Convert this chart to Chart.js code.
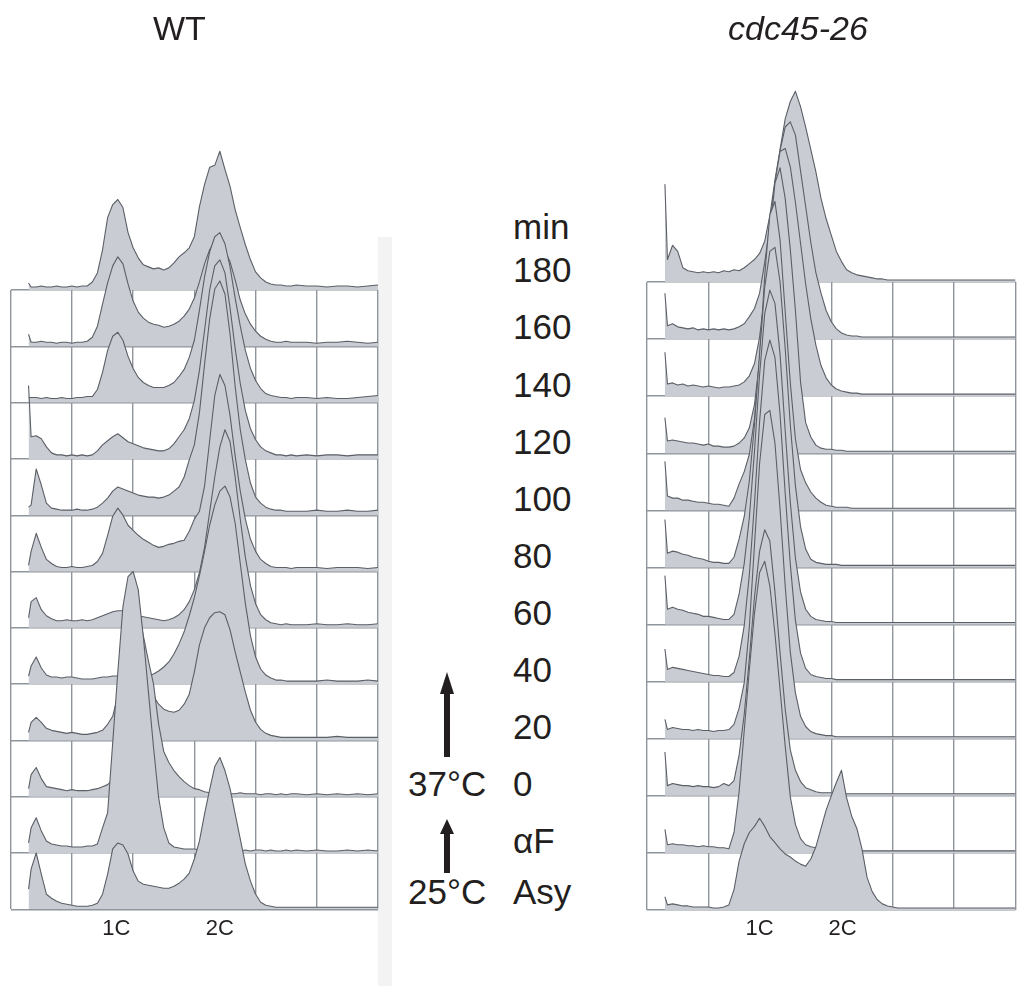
<!DOCTYPE html>
<html>
<head>
<meta charset="utf-8">
<script src="https://cdn.jsdelivr.net/npm/chart.js@4.4.1/dist/chart.umd.min.js"></script>
<style>
  body { margin: 0; background: #fff; font-family: "Liberation Sans", Arial, sans-serif; color: #231f20; }
  #page { position: relative; width: 1019px; height: 986px; overflow: hidden; }
  #bar { position: absolute; left: 378px; top: 237px; width: 14px; height: 749px; background: #f3f3f3; }
  .panel { position: absolute; top: 0; height: 986px; }
  .panel canvas { position: absolute; left: 0; top: 0; }
  .title { position: absolute; top: 11px; font-size: 34px; line-height: 34px; white-space: nowrap; }
  .lbl { position: absolute; font-size: 35px; line-height: 35px; white-space: nowrap; }
  #arrows { position: absolute; left: 0; top: 0; }
</style>
</head>
<body>
<div id="page">
  <div id="bar"></div>
  <div class="panel" style="left:0;width:395px">
    <canvas id="wtGrid" width="395" height="986"></canvas>
    <canvas id="wtHist" width="395" height="986"></canvas>
  </div>
  <div class="panel" style="left:630px;width:389px">
    <canvas id="cdcGrid" width="389" height="986"></canvas>
    <canvas id="cdcHist" width="389" height="986"></canvas>
  </div>
  <div class="title" style="left:153px">WT</div>
  <div class="title" style="left:728px;font-style:italic">cdc45-26</div>
  <div id="labels"></div>
  <svg id="arrows" width="1019" height="986">
    <rect x="444" y="690" width="6" height="67" fill="#231f20"/>
    <polygon points="440,694 447,672 454,694" fill="#231f20"/>
    <rect x="444" y="830" width="6" height="43" fill="#231f20"/>
    <polygon points="440,834 447,819 454,834" fill="#231f20"/>
  </svg>
</div>
<script>
// fluorescence channels (x), shared by every histogram
const chan = [3.5, 4, 5, 6, 7, 8, 9, 10, 11, 12, 13, 14, 15,
  16, 17, 18, 19, 20, 21, 22, 23, 24, 25, 26, 27, 28, 29, 30, 31, 32, 33, 34, 35,
  36, 37, 38, 39, 40, 41, 42, 43, 44, 45, 46, 47, 48, 49, 50, 51, 52, 53, 54, 55, 56,
  58, 60, 62, 64, 66, 68, 70, 72];

const rowLabels = ['Asy', 'αF', '0', '20', '40', '60', '80', '100', '120', '140', '160', '180'];
const ploidy = ['1C', '2C'];
const wtPloidyPos = [20.7, 41.0];
const cdcPloidyPos = [22.0, 38.2];

// WT cell counts per channel
const wtAsy = [20,40,56,35,15,11,8,6,5,4,3,3,3,
  4,6,15,35,60,66,64,55,38,28,25,24,23,22,21,21,23,26,30,36,
  50,68,95,119,142,151,138,120,95,70,45,28,15,7,4,3,2,2,2,2,2,
  2,2,2,2,2,2,2,2];
const wtAF = [10,25,35,22,12,9,8,7,7,6,6,6,7,
  7,9,25,40,110,180,245,275,280,262,215,160,105,55,25,10,6,5,4,4,
  4,3,4,3,3,3,2,3,3,2,3,2,3,3,2,3,2,2,3,2,3,
  2,3,2,2,3,2,3,2];
const wt0 = [8,22,29,18,10,9,8,7,6,7,6,6,6,
  7,8,10,12,17,60,116,170,196,185,160,135,112,72,45,34,26,20,15,11,
  8,7,5,4,3,3,4,3,3,4,3,3,3,2,3,3,2,3,2,3,3,
  2,3,2,3,2,3,2,3];
const wt20 = [8,18,23,18,12,10,9,8,7,8,7,6,6,
  7,8,10,16,24,45,85,115,120,105,80,58,44,36,31,29,28,30,36,46,
  68,95,112,122,127,128,125,110,88,68,48,30,18,11,7,5,4,3,3,3,3,
  3,3,3,4,3,3,3,3];
const wt40 = [8,18,27,16,9,7,7,6,7,7,6,5,5,
  5,6,7,7,8,8,7,7,6,6,7,8,10,13,17,22,30,40,52,68,
  86,108,132,158,178,192,197,186,160,120,80,48,27,15,9,6,4,4,3,3,3,
  3,3,4,3,3,3,4,3];
const wt60 = [10,26,30,18,12,9,7,7,8,7,7,8,7,
  8,10,12,14,16,17,17,16,14,12,11,10,9,8,7,8,10,13,18,26,
  38,55,80,115,150,180,197,185,150,108,70,42,24,13,8,5,4,3,4,3,3,
  3,4,3,3,4,3,3,4];
const wt80 = [6,20,38,24,12,8,5,4,4,5,4,4,5,
  6,10,18,36,55,63,56,46,41,36,32,29,26,24,25,27,28,30,31,40,
  52,60,85,130,175,196,185,155,115,80,52,32,20,12,8,5,4,4,4,3,4,
  4,4,3,4,4,4,3,4];
const wt100 = [8,10,46,30,12,7,6,5,5,5,6,5,5,
  6,8,12,17,24,28,26,24,22,20,19,18,18,17,18,20,24,28,38,55,
  70,102,150,195,225,233,220,180,128,85,55,32,18,12,8,6,5,5,4,4,4,
  4,5,4,4,5,4,4,5];
const wt120 = [73,22,23,20,12,6,4,4,3,4,3,4,3,
  4,8,14,18,22,25,21,17,15,13,11,10,9,8,8,10,15,22,29,40,
  58,88,128,168,192,198,185,150,110,75,48,30,19,12,8,6,4,4,3,4,3,
  4,3,4,4,3,4,4,4];
const wt140 = [5,5,5,4,5,4,4,5,4,4,5,5,6,
  6,13,30,52,66,70,62,46,34,25,20,17,15,15,15,17,20,26,33,45,
  62,92,125,150,165,169,158,135,104,76,52,34,22,14,9,7,6,5,5,4,5,
  5,4,5,4,4,5,6,7];
const wt160 = [12,4,4,5,4,4,3,4,4,3,4,4,5,
  9,20,42,63,80,89,82,62,45,34,28,24,22,21,19,20,22,25,30,37,
  48,64,82,96,104,102,95,84,66,46,32,22,15,10,7,5,4,4,5,4,4,
  4,3,4,4,5,4,3,4];
const wt180 = [7,3,3,4,3,3,4,3,3,4,3,4,4,
  8,17,40,72,85,90,82,57,42,32,25,23,21,22,20,22,27,33,37,42,
  53,83,105,122,124,138,120,103,80,62,45,30,18,12,8,6,5,5,4,4,5,
  4,4,3,4,4,3,4,5];

// cdc45-26 cell counts per channel
const cdcAsy = [13,5,6,5,4,4,3,3,3,3,2,2,3,
  5,20,48,65,76,82,90,82,72,66,60,55,52,48,45,43,50,62,80,98,
  112,125,137,110,92,80,60,32,18,10,6,4,3,2,2,2,2,2,2,2,2,
  2,2,2,2,2,2,2,2];
const cdcAF = [23,8,9,8,8,7,7,6,7,6,6,5,5,
  4,20,60,120,180,235,275,286,262,215,160,105,55,28,14,8,6,5,4,3,
  3,3,2,2,2,2,2,2,2,2,2,2,2,2,2,2,2,2,2,2,2,
  2,2,2,2,2,2,2,2];
const cdc0 = [43,10,12,11,10,10,9,10,9,9,8,9,12,
  10,15,40,80,135,195,240,261,250,200,140,85,45,25,14,8,6,4,3,3,
  3,2,2,2,2,2,2,2,2,2,2,2,2,2,2,2,2,2,2,2,2,
  2,2,2,2,2,2,2,2];
const cdc20 = [19,9,11,10,9,9,8,9,8,8,7,8,8,
  9,14,30,55,110,190,270,318,322,290,225,150,85,45,22,12,7,5,4,3,
  3,2,2,2,2,2,2,2,2,2,2,2,2,2,2,2,2,2,2,2,2,
  2,2,2,2,2,2,2,2];
const cdc40 = [32,12,14,13,12,11,10,9,8,7,6,6,5,
  5,9,25,55,105,175,255,315,335,318,262,185,115,60,28,13,7,5,4,3,
  3,2,2,2,2,2,2,2,2,2,2,2,2,2,2,2,2,2,2,2,2,
  2,2,2,2,2,2,2,2];
const cdc60 = [48,15,17,15,14,12,11,10,8,8,7,6,5,
  5,10,30,60,105,170,245,305,328,315,265,190,120,65,32,15,8,5,4,3,
  3,2,2,2,2,2,2,2,2,2,2,2,2,2,2,2,2,2,2,2,2,
  2,2,2,2,2,2,2,2];
const cdc80 = [47,14,16,15,13,12,10,9,8,6,5,5,4,
  4,10,28,50,85,140,210,275,310,314,280,215,140,80,40,18,8,5,4,3,
  3,3,2,2,2,2,2,2,2,2,2,2,2,2,2,2,2,2,2,2,2,
  2,2,2,2,2,2,2,2];
const cdc100 = [48,14,12,12,10,10,9,8,8,7,6,6,5,
  4,12,26,38,55,90,150,230,290,303,265,195,125,70,40,27,18,12,8,5,
  4,3,3,3,2,2,2,2,2,2,2,2,2,2,2,2,2,2,2,2,2,
  2,2,2,2,2,2,2,2];
const cdc120 = [35,12,13,12,11,10,10,9,8,9,7,7,6,
  6,7,10,15,25,48,90,150,215,265,280,250,200,140,70,30,16,8,5,4,
  4,3,3,2,2,2,2,2,2,2,2,2,2,2,2,2,2,2,2,2,2,
  2,2,2,2,2,2,2,2];
const cdc140 = [43,12,13,11,12,10,11,10,9,10,9,8,9,
  9,10,11,14,20,32,58,100,155,210,240,243,225,190,150,110,76,50,30,18,
  11,7,5,4,3,3,2,2,2,2,2,2,2,2,2,2,2,2,2,2,2,
  2,2,2,2,2,2,2,2];
const cdc160 = [45,13,15,12,11,10,11,9,10,9,10,9,10,
  9,10,12,15,22,30,45,75,112,150,185,208,213,200,165,130,95,65,45,28,
  17,10,6,4,3,3,2,2,2,2,2,2,2,2,2,2,2,2,2,2,2,
  2,2,2,2,2,2,2,2];
const cdc180 = [96,22,36,30,14,11,10,9,10,9,10,9,11,
  10,12,11,14,18,22,28,40,65,100,130,160,177,187,172,152,130,108,82,62,
  46,30,20,12,9,7,6,5,4,3,3,2,2,2,2,2,2,2,2,2,2,
  2,2,2,2,2,2,2,2];

const wtRows = [wtAsy, wtAF, wt0, wt20, wt40, wt60, wt80, wt100, wt120, wt140, wt160, wt180];
const cdcRows = [cdcAsy, cdcAF, cdc0, cdc20, cdc40, cdc60, cdc80, cdc100, cdc120, cdc140, cdc160, cdc180];

const rowStep = 56;      // counts between stacked baselines
const yTop = 820;
const fillColor = '#c9ccd2';
const lineColor = '#5b5f66';
const gridColor = '#8f959c';

Chart.defaults.font.family = '"Liberation Sans", Arial, sans-serif';
Chart.defaults.color = '#231f20';

function gridChart(id, pad) {
    return new Chart(document.getElementById(id), {
        type: 'line',
        data: { datasets: [] },
        options: {
            responsive: false,
            animation: false,
            layout: { padding: pad },
            plugins: { legend: { display: false }, tooltip: { enabled: false } },
            scales: {
                x: {
                    type: 'linear', min: 0, max: 72,
                    border: { display: false },
                    grid: { color: gridColor, lineWidth: 1.4, drawTicks: false },
                    ticks: { display: false, stepSize: 12 }
                },
                y: {
                    type: 'linear', min: 0, max: rowStep * (rowLabels.length - 1),
                    border: { display: false },
                    grid: { color: gridColor, lineWidth: 1.4, drawTicks: false },
                    ticks: { display: false, stepSize: rowStep }
                }
            }
        }
    });
}

function histChart(id, rows, pad, tickPos) {
    // bottom row first, so the lower histograms are painted over the upper ones
    let datasets = rows.map((vals, i) => ({
        data: chan.map((c, k) => ({ x: c, y: i * rowStep + vals[k] })),
        fill: { value: i * rowStep },
        backgroundColor: fillColor,
        borderColor: lineColor,
        borderWidth: 1.1,
        borderJoinStyle: 'round',
        pointRadius: 0,
        tension: 0
    }));
    return new Chart(document.getElementById(id), {
        type: 'line',
        data: { datasets: datasets },
        options: {
            responsive: false,
            animation: false,
            layout: { padding: pad },
            plugins: { legend: { display: false }, tooltip: { enabled: false } },
            scales: {
                x: {
                    type: 'linear', min: 0, max: 72,
                    border: { display: false },
                    grid: { display: false, drawTicks: false },
                    afterBuildTicks: (axis) => { axis.ticks = tickPos.map(v => ({ value: v })); },
                    afterFit: (axis) => { axis.height = 40; },
                    ticks: {
                        autoSkip: false, maxRotation: 0, padding: 6,
                        font: { size: 22 },
                        callback: (v, i) => ploidy[i]
                    }
                },
                y: { type: 'linear', min: 0, max: yTop, display: false }
            }
        }
    });
}

gridChart('wtGrid', { left: 10.7, right: 17, top: 290, bottom: 76.7 });
histChart('wtHist', wtRows, { left: 10.7, right: 17, top: 84.9, bottom: 36.7 }, wtPloidyPos);
gridChart('cdcGrid', { left: 17, right: 3.5, top: 282, bottom: 76 });
let cdcChart = histChart('cdcHist', cdcRows, { left: 17, right: 3.5, top: 74, bottom: 36 }, cdcPloidyPos);

// time point labels, lined up with the cdc45-26 baselines
let holder = document.getElementById('labels');
let yScale = cdcChart.scales.y;
function addLabel(text, left, top) {
    let d = document.createElement('div');
    d.className = 'lbl';
    d.textContent = text;
    d.style.left = left + 'px';
    d.style.top = top + 'px';
    holder.appendChild(d);
}
rowLabels.forEach((t, i) => {
    let top = yScale.getPixelForValue(i * rowStep) - 29.6;
    if (i === 0) top -= 6;
    addLabel(t, 513, top);
    if (t === '0') addLabel('37°C', 408, top);
    if (t === 'Asy') addLabel('25°C', 408, top);
    if (t === '180') addLabel('min', 513, top - 43);
});
</script>
</body>
</html>
